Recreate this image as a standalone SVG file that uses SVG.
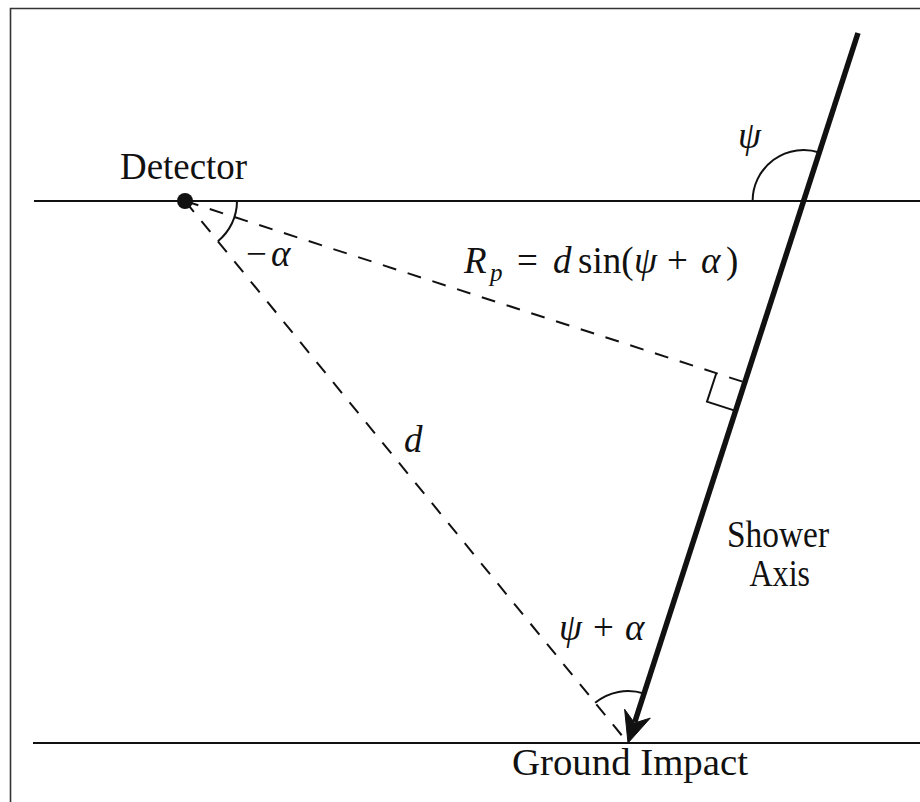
<svg xmlns="http://www.w3.org/2000/svg" width="920" height="802" viewBox="0 0 920 802">
<style>
.ln{stroke:#111;stroke-width:2;fill:none}
.dash{stroke:#111;stroke-width:2;fill:none;stroke-dasharray:14 12}
.arc{stroke:#111;stroke-width:2;fill:none}
text{font-family:'Liberation Serif','DejaVu Serif',serif;fill:#111}
.t{font-size:37px}
.m{font-size:37px;font-style:italic}
.r{font-style:normal}
</style>
<rect width="920" height="802" fill="#fff"/>
<g id="frame">
<path d="M10.5 802 V8.5 H920" stroke="#333" stroke-width="1.6" fill="none"/>
</g>
<g id="horizon-top"><line class="ln" x1="34" y1="201" x2="920" y2="201"/></g>
<g id="ground"><line class="ln" x1="33" y1="743" x2="920" y2="743"/></g>
<g id="connectors">
<line class="dash" x1="185" y1="201" x2="744.8" y2="382.4"/>
<line class="dash" x1="185" y1="201" x2="628" y2="743"/>
<line x1="858" y1="33" x2="634.8" y2="722" stroke="#111" stroke-width="5.5"/>
<path d="M628 743 L624.6 709.2 L634.5 723 L650.3 718.1 Z" fill="#111" stroke="#111" stroke-width="1" stroke-linejoin="miter"/>
<polyline class="ln" points="716.3,373.2 707,401.7 735.6,410.9"/>
<path class="arc" d="M237 201 A52 52 0 0 1 217.9 241.2"/>
<path class="arc" d="M752.6 201 A51 51 0 0 1 819.3 152.5"/>
<path class="arc" d="M595.1 702.8 A52 52 0 0 1 644 693.5"/>
</g>
<g id="detector">
<circle cx="185" cy="201" r="8" fill="#111"/>
<text class="t" x="120" y="179" textLength="127" lengthAdjust="spacingAndGlyphs">Detector</text>
</g>
<g id="shower-axis-label">
<text class="t" x="727" y="547" textLength="102" lengthAdjust="spacingAndGlyphs">Shower</text>
<text class="t" x="749.5" y="586" textLength="60.5" lengthAdjust="spacingAndGlyphs">Axis</text>
</g>
<g id="ground-impact">
<text class="t" x="512" y="775" textLength="236" lengthAdjust="spacingAndGlyphs">Ground Impact</text>
</g>
<g id="label-alpha"><text class="m"><tspan class="r" x="246" y="266">−</tspan><tspan x="271" y="266">α</tspan></text></g>
<g id="label-psi"><text class="m" x="738" y="148">ψ</text></g>
<g id="label-d"><text class="m" x="404" y="452">d</text></g>
<g id="label-psi-alpha"><text class="m"><tspan x="559" y="640">ψ</tspan><tspan class="r" x="593" y="640">+</tspan><tspan x="625" y="640">α</tspan></text></g>
<g id="label-rp"><text class="m"><tspan x="464" y="273">R</tspan><tspan x="490" y="281" font-size="25">p</tspan><tspan class="r" x="517" y="273">=</tspan><tspan x="553" y="273">d</tspan><tspan class="r" x="578" y="273">sin(</tspan><tspan x="634" y="273">ψ</tspan><tspan class="r" x="667" y="273">+</tspan><tspan x="701" y="273">α</tspan><tspan class="r" x="726" y="273">)</tspan></text></g>
</svg>
